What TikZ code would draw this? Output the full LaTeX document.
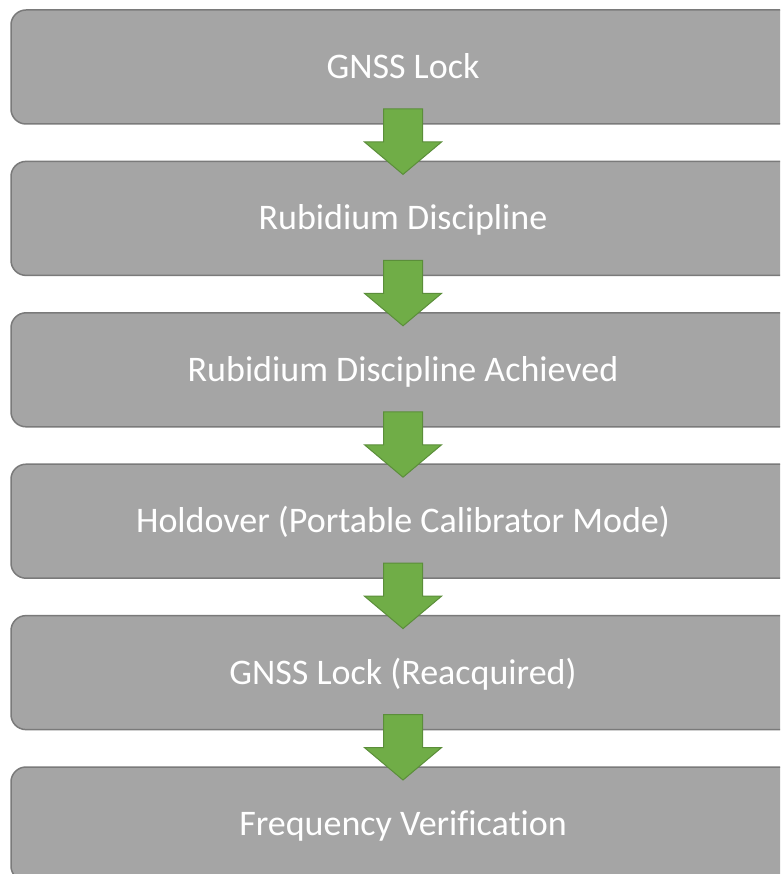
\documentclass[tikz,border=0pt]{standalone}
\usepackage{fontspec}
\setmainfont{Carlito}[Ligatures=CommonOff]
\usetikzlibrary{positioning,calc}

\definecolor{boxgray}{HTML}{A5A5A5}
\definecolor{boxedge}{HTML}{7A7A7A}
\definecolor{arrowgreen}{HTML}{70AD47}
\definecolor{arrowedge}{HTML}{5B8E3A}

\tikzset{
  stagebox/.style={draw=boxedge,line width=1.5pt,fill=boxgray,rounded corners=15pt,
    minimum width=784pt,minimum height=114pt,inner sep=0pt,outer sep=0pt,
    text height=23pt,text depth=0pt,
    text=white,font=\fontsize{36}{43}\selectfont},
  flowarrow/.style={draw=arrowedge,line width=1pt,fill=arrowgreen,line join=miter}
}

\begin{document}
\begin{tikzpicture}[x=1pt,y=1pt]
  \useasboundingbox (0,0) rectangle (780,-874);
  \clip (0,0) rectangle (780,-874);
  % stages
  \node[stagebox] (b1) at (403,-67) {GNSS Lock};
  \node[stagebox,below=37.4pt of b1] (b2) {Rubidium Discipline};
  \node[stagebox,below=37.4pt of b2] (b3) {Rubidium Discipline Achieved};
  \node[stagebox,below=37.4pt of b3] (b4) {Holdover (Portable Calibrator Mode)};
  \node[stagebox,below=37.4pt of b4] (b5) {GNSS Lock (Reacquired)};
  \node[stagebox,below=37.4pt of b5] (b6) {Frequency Verification};
  % block arrows
  \foreach \a/\b in {b1/b2,b2/b3,b3/b4,b4/b5,b5/b6} {
    \draw[flowarrow] ([shift={(-19.5,15)}]\a.south) -- ([shift={(19.5,15)}]\a.south)
      -- ([shift={(19.5,-18)}]\a.south) -- ([shift={(38.5,-18)}]\a.south)
      -- ([shift={(0,-13)}]\b.north) -- ([shift={(-38.5,-18)}]\a.south)
      -- ([shift={(-19.5,-18)}]\a.south) -- cycle;
  }
\end{tikzpicture}
\end{document}
